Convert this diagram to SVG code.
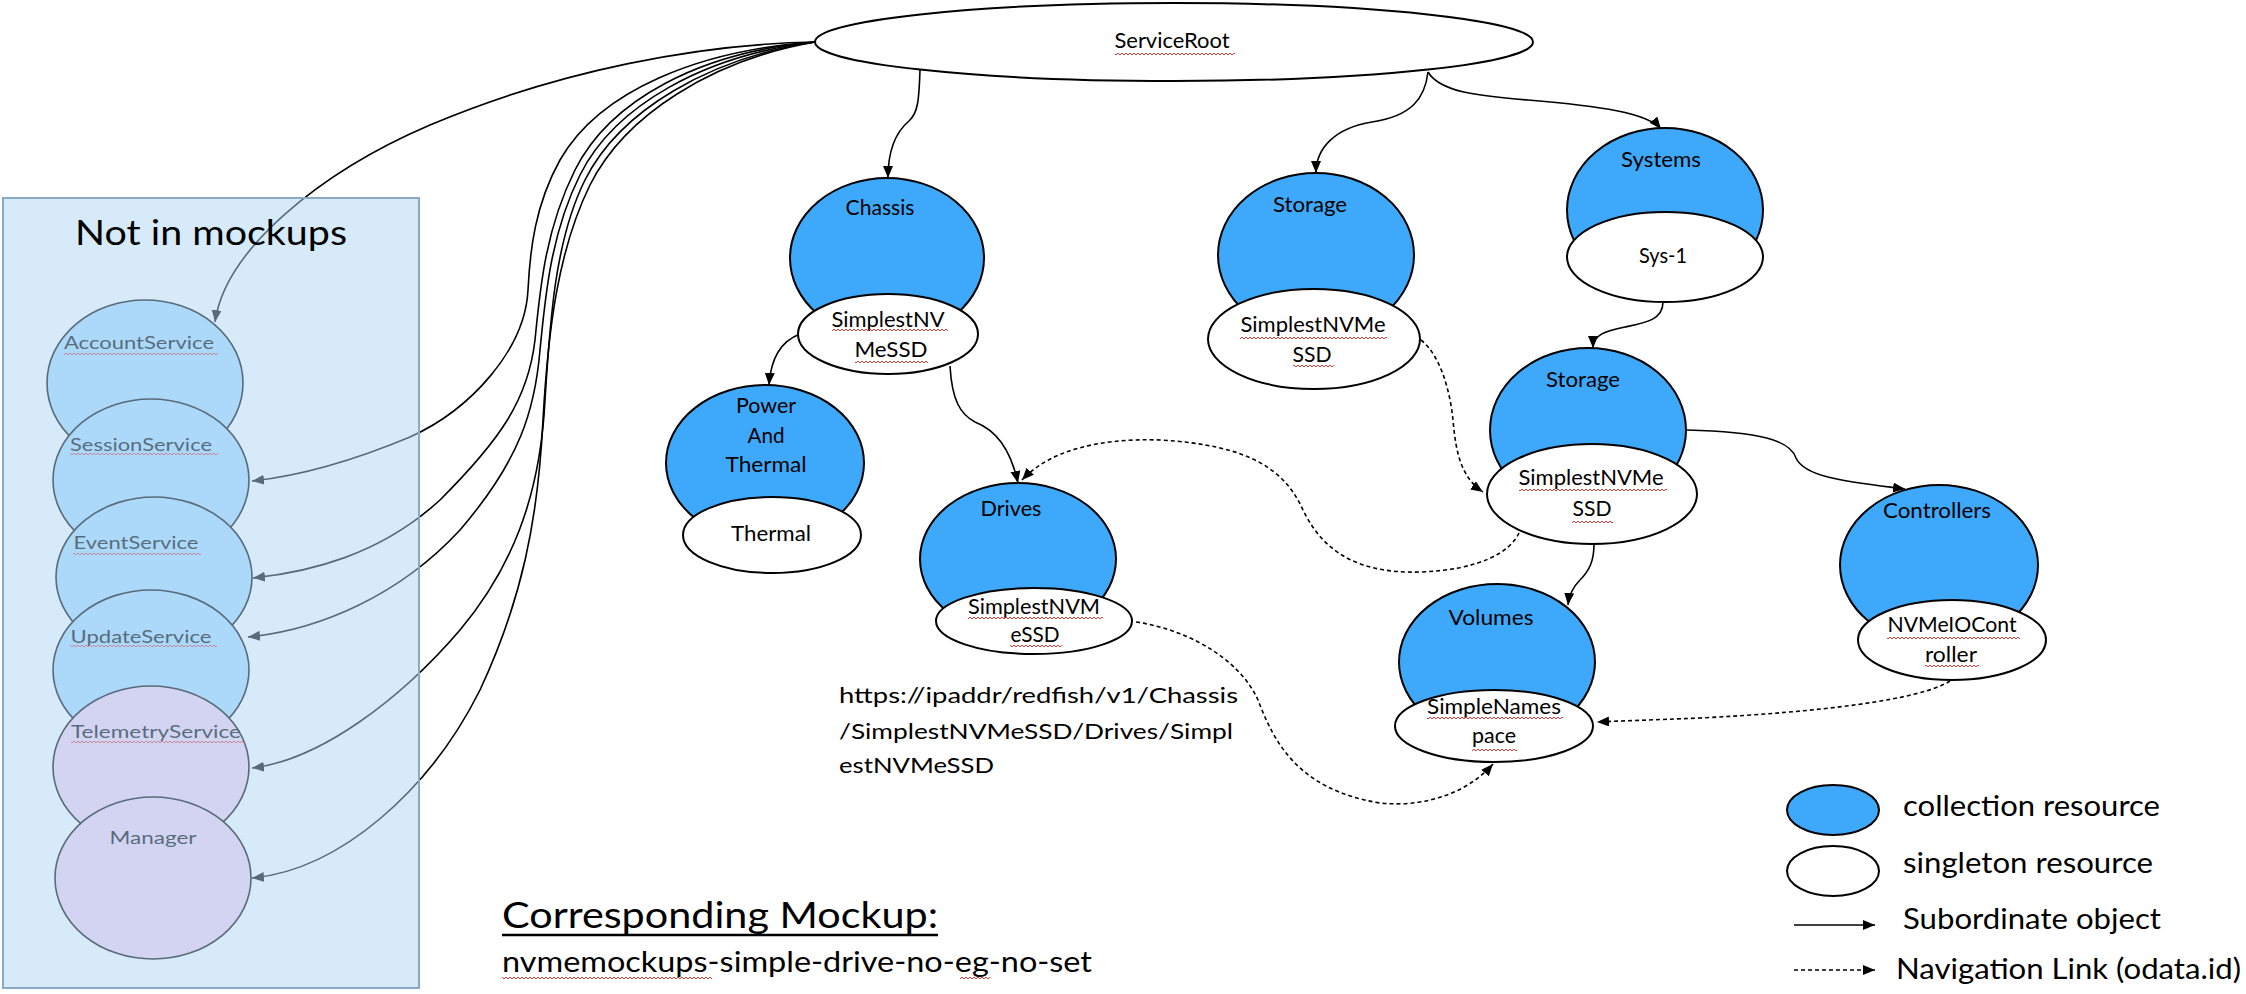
<svg xmlns="http://www.w3.org/2000/svg" width="2246" height="994" viewBox="0 0 2246 994">
<style>
text{font-family:Lato,"Liberation Sans",sans-serif;fill:#000}
.lbl{font-size:21px;text-anchor:middle}
.svc{font-size:18px;text-anchor:middle}
.coll{fill:#3ea9fb;stroke:#000;stroke-width:2}
.sing{fill:#fff;stroke:#000;stroke-width:2}
.sc{stroke:#000;stroke-width:1.6}
.blue{fill:#aadaff}
.lav{fill:#f8d2f0}
.con{fill:none;stroke:#000;stroke-width:1.6}
.dash{fill:none;stroke:#000;stroke-width:1.6;stroke-dasharray:4 3}
.sq{fill:url(#sq)}
.big{font-size:29px}
</style>
<defs>
<pattern id="sq" width="4" height="4" patternUnits="userSpaceOnUse"><path d="M0,3 L2,1 L4,3" fill="none" stroke="#e02828" stroke-width="0.9"/></pattern>
<marker id="ah" markerWidth="13" markerHeight="11" refX="12" refY="5" orient="auto" markerUnits="userSpaceOnUse"><path d="M0,0 L12,5 L0,10 z" fill="#000"/></marker>
</defs>
<rect width="2246" height="994" fill="#fff"/>
<g id="connectors">
<path class="con" marker-end="url(#ah)" d="M920,70 C919,100 918,113 909,121 C897,131 888,148 888,178"/>
<path class="con" marker-end="url(#ah)" d="M1428,72 C1425,98 1412,116 1372,122 C1335,128 1316,148 1316,173"/>
<path class="con" marker-end="url(#ah)" d="M1428,72 C1440,92 1478,96 1528,100 C1600,106 1648,113 1661,129"/>
<path class="con" marker-end="url(#ah)" d="M800,334 C784,340 771,355 769,385"/>
<path class="con" marker-end="url(#ah)" d="M950,366 C952,400 960,414 975,422 C995,430 1010,447 1018,483"/>
<path class="con" marker-end="url(#ah)" d="M1663,302 C1663,320 1645,323 1625,327 C1605,331 1593,335 1593,348"/>
<path class="con" marker-end="url(#ah)" d="M1687,430 C1760,432 1790,440 1796,458 C1805,478 1850,482 1905,489"/>
<path class="con" marker-end="url(#ah)" d="M1594,544 C1594,560 1590,570 1580,580 C1572,588 1569,595 1568,605"/>
<path class="con" marker-end="url(#ah)" d="M815,42 C700,44 560,70 430,125 C320,172 225,250 215,322"/>
<path class="con" marker-end="url(#ah)" d="M815,42 C700,50 600,90 560,160 C535,205 530,250 528,290 C525,350 470,410 410,437 C350,462 300,476 252,481"/>
<path class="con" marker-end="url(#ah)" d="M815,42 C700,52 610,100 575,170 C545,230 540,290 535,340 C528,400 500,440 440,500 C380,555 310,572 253,578"/>
<path class="con" marker-end="url(#ah)" d="M815,42 C705,55 615,105 580,175 C550,235 545,300 540,350 C535,410 520,460 460,530 C400,595 320,630 248,637"/>
<path class="con" marker-end="url(#ah)" d="M815,42 C710,58 620,110 585,180 C555,240 550,320 545,400 C540,500 510,570 460,630 C400,700 320,760 252,768"/>
<path class="con" marker-end="url(#ah)" d="M815,42 C712,60 625,115 590,185 C558,250 548,330 543,420 C538,520 522,600 480,690 C430,790 340,870 252,878"/>
<path class="dash" marker-end="url(#ah)" d="M1421,340 C1440,355 1450,390 1453,420 C1456,455 1462,478 1483,492"/>
<path class="dash" marker-end="url(#ah)" d="M1519,533 C1510,552 1480,570 1420,572 C1350,574 1320,545 1303,510 C1285,470 1250,445 1160,440 C1100,438 1050,450 1022,480"/>
<path class="dash" marker-end="url(#ah)" d="M1136,622 C1190,630 1240,660 1258,700 C1275,745 1300,790 1380,803 C1430,808 1470,790 1493,764"/>
<path class="dash" marker-end="url(#ah)" d="M1950,681 C1920,700 1820,712 1700,718 C1650,720 1620,721 1597,722"/>
</g>
<g id="serviceroot">
<ellipse class="sing" cx="1174" cy="42" rx="359" ry="39"/>
<text class="lbl" x="1172" y="48" textLength="115" lengthAdjust="spacingAndGlyphs">ServiceRoot</text>
<rect class="sq" x="1115" y="52" width="120" height="4"/>
</g>
<g id="chassis">
<ellipse class="coll" cx="887" cy="258" rx="97" ry="80"/>
<ellipse class="sing" cx="888" cy="334" rx="90" ry="40"/>
<text class="lbl" x="880" y="215" textLength="69" lengthAdjust="spacingAndGlyphs">Chassis</text>
<text class="lbl" x="888" y="327" textLength="113" lengthAdjust="spacingAndGlyphs">SimplestNV</text>
<text class="lbl" x="891" y="357" textLength="73" lengthAdjust="spacingAndGlyphs">MeSSD</text>
<rect class="sq" x="832" y="328" width="116" height="4"/>
<rect class="sq" x="855" y="360" width="73" height="4"/>
</g>
<g id="powerandthermal">
<ellipse class="coll" cx="765" cy="463" rx="99" ry="78"/>
<ellipse class="sing" cx="772" cy="535" rx="89" ry="38"/>
<text class="lbl" x="766" y="413" textLength="60" lengthAdjust="spacingAndGlyphs">Power</text>
<text class="lbl" x="766" y="443" textLength="37" lengthAdjust="spacingAndGlyphs">And</text>
<text class="lbl" x="766" y="472" textLength="81" lengthAdjust="spacingAndGlyphs">Thermal</text>
<text class="lbl" x="771" y="541" textLength="80" lengthAdjust="spacingAndGlyphs">Thermal</text>
</g>
<g id="storage">
<ellipse class="coll" cx="1316" cy="255" rx="98" ry="82"/>
<ellipse class="sing" cx="1314" cy="339" rx="106" ry="50"/>
<text class="lbl" x="1310" y="212" textLength="74" lengthAdjust="spacingAndGlyphs">Storage</text>
<text class="lbl" x="1313" y="332" textLength="145" lengthAdjust="spacingAndGlyphs">SimplestNVMe</text>
<text class="lbl" x="1312" y="362" textLength="39" lengthAdjust="spacingAndGlyphs">SSD</text>
<rect class="sq" x="1240" y="336" width="147" height="4"/>
<rect class="sq" x="1293" y="364" width="41" height="4"/>
</g>
<g id="systems">
<ellipse class="coll" cx="1665" cy="210" rx="98" ry="82"/>
<ellipse class="sing" cx="1665" cy="257" rx="98" ry="45"/>
<text class="lbl" x="1661" y="167" textLength="80" lengthAdjust="spacingAndGlyphs">Systems</text>
<text class="lbl" x="1663" y="263" textLength="48" lengthAdjust="spacingAndGlyphs">Sys-1</text>
</g>
<g id="storage2">
<ellipse class="coll" cx="1588" cy="430" rx="98" ry="82"/>
<ellipse class="sing" cx="1592" cy="494" rx="105" ry="50"/>
<text class="lbl" x="1583" y="387" textLength="74" lengthAdjust="spacingAndGlyphs">Storage</text>
<text class="lbl" x="1591" y="485" textLength="145" lengthAdjust="spacingAndGlyphs">SimplestNVMe</text>
<text class="lbl" x="1592" y="516" textLength="39" lengthAdjust="spacingAndGlyphs">SSD</text>
<rect class="sq" x="1519" y="488" width="148" height="4"/>
<rect class="sq" x="1572" y="520" width="41" height="4"/>
</g>
<g id="drives">
<ellipse class="coll" cx="1018" cy="559" rx="98" ry="76"/>
<ellipse class="sing" cx="1034" cy="621" rx="98" ry="33"/>
<text class="lbl" x="1011" y="516" textLength="61" lengthAdjust="spacingAndGlyphs">Drives</text>
<text class="lbl" x="1034" y="614" textLength="132" lengthAdjust="spacingAndGlyphs">SimplestNVM</text>
<text class="lbl" x="1035" y="642" textLength="49" lengthAdjust="spacingAndGlyphs">eSSD</text>
<rect class="sq" x="968" y="616" width="135" height="4"/>
<rect class="sq" x="1010" y="644" width="52" height="4"/>
</g>
<g id="volumes">
<ellipse class="coll" cx="1497" cy="662" rx="98" ry="78"/>
<ellipse class="sing" cx="1494" cy="726" rx="99" ry="36"/>
<text class="lbl" x="1491" y="625" textLength="85" lengthAdjust="spacingAndGlyphs">Volumes</text>
<text class="lbl" x="1494" y="714" textLength="134" lengthAdjust="spacingAndGlyphs">SimpleNames</text>
<text class="lbl" x="1494" y="743" textLength="44" lengthAdjust="spacingAndGlyphs">pace</text>
<rect class="sq" x="1427" y="716" width="136" height="4"/>
<rect class="sq" x="1472" y="748" width="45" height="4"/>
</g>
<g id="controllers">
<ellipse class="coll" cx="1939" cy="565" rx="99" ry="80"/>
<ellipse class="sing" cx="1952" cy="640" rx="94" ry="40"/>
<text class="lbl" x="1937" y="518" textLength="108" lengthAdjust="spacingAndGlyphs">Controllers</text>
<text class="lbl" x="1952" y="632" textLength="129" lengthAdjust="spacingAndGlyphs">NVMeIOCont</text>
<text class="lbl" x="1951" y="662" textLength="52" lengthAdjust="spacingAndGlyphs">roller</text>
<rect class="sq" x="1887" y="636" width="133" height="4"/>
<rect class="sq" x="1925" y="664" width="54" height="4"/>
</g>
<g id="accountservice">
<ellipse class="blue sc" cx="145" cy="383" rx="98" ry="83"/>
<text class="svc" x="139" y="349" textLength="150" lengthAdjust="spacingAndGlyphs">AccountService</text>
<rect class="sq" x="64" y="352" width="154" height="4"/>
</g>
<g id="sessionservice">
<ellipse class="blue sc" cx="151" cy="480" rx="98" ry="81"/>
<text class="svc" x="141" y="451" textLength="142" lengthAdjust="spacingAndGlyphs">SessionService</text>
<rect class="sq" x="70" y="452" width="148" height="4"/>
</g>
<g id="eventservice">
<ellipse class="blue sc" cx="154" cy="577" rx="98" ry="80"/>
<text class="svc" x="136" y="549" textLength="125" lengthAdjust="spacingAndGlyphs">EventService</text>
<rect class="sq" x="73" y="552" width="128" height="4"/>
</g>
<g id="updateservice">
<ellipse class="blue sc" cx="151" cy="670" rx="98" ry="80"/>
<text class="svc" x="141" y="643" textLength="141" lengthAdjust="spacingAndGlyphs">UpdateService</text>
<rect class="sq" x="70" y="644" width="147" height="4"/>
</g>
<g id="telemetryservice">
<ellipse class="lav sc" cx="151" cy="767" rx="98" ry="81"/>
<text class="svc" x="156" y="738" textLength="170" lengthAdjust="spacingAndGlyphs">TelemetryService</text>
<rect class="sq" x="71" y="740" width="174" height="4"/>
</g>
<g id="manager">
<ellipse class="lav sc" cx="153" cy="878" rx="98" ry="81"/>
<text class="svc" x="153" y="844" textLength="87" lengthAdjust="spacingAndGlyphs">Manager</text>
</g>
<g id="notinmockups">
<rect x="3" y="198" width="416" height="790" fill="#aed6f3" fill-opacity="0.5" stroke="#88aac8" stroke-width="2"/>
<text x="211" y="245" font-size="35" text-anchor="middle" textLength="272" lengthAdjust="spacingAndGlyphs">Not in mockups</text>
</g>
<g id="annotations">
<text x="839" y="703" font-size="21" textLength="399" lengthAdjust="spacingAndGlyphs">https://ipaddr/redfish/v1/Chassis</text>
<text x="839" y="739" font-size="21" textLength="394" lengthAdjust="spacingAndGlyphs">/SimplestNVMeSSD/Drives/Simpl</text>
<text x="839" y="773" font-size="21" textLength="155" lengthAdjust="spacingAndGlyphs">estNVMeSSD</text>
<text x="502" y="928" font-size="37" textLength="436" lengthAdjust="spacingAndGlyphs">Corresponding Mockup:</text>
<line x1="502" y1="935" x2="938" y2="935" stroke="#000" stroke-width="2.5"/>
<text class="big" x="502" y="972" textLength="590" lengthAdjust="spacingAndGlyphs">nvmemockups-simple-drive-no-eg-no-set</text>
<rect class="sq" x="502" y="976" width="210" height="4"/>
<rect class="sq" x="960" y="976" width="30" height="4"/>
</g>
<g id="legend">
<ellipse class="coll" cx="1833" cy="810" rx="46" ry="25" stroke-width="1.6"/>
<ellipse class="sing" cx="1833" cy="871" rx="46" ry="25" stroke-width="1.6"/>
<line class="con" x1="1794" y1="925" x2="1875" y2="925" marker-end="url(#ah)"/>
<line class="dash" x1="1794" y1="970" x2="1875" y2="970" marker-end="url(#ah)"/>
<text class="big" x="1903" y="816" textLength="257" lengthAdjust="spacingAndGlyphs">collection resource</text>
<text class="big" x="1903" y="873" textLength="250" lengthAdjust="spacingAndGlyphs">singleton resource</text>
<text class="big" x="1903" y="929" textLength="258" lengthAdjust="spacingAndGlyphs">Subordinate object</text>
<text class="big" x="1896" y="979" textLength="345" lengthAdjust="spacingAndGlyphs">Navigation Link (odata.id)</text>
</g>
</svg>
